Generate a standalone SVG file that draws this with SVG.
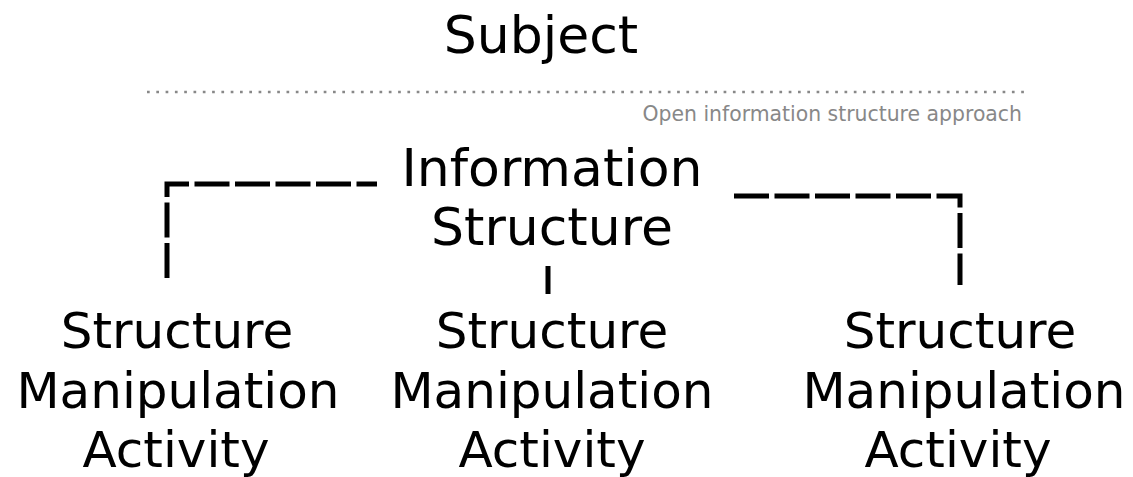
<svg xmlns="http://www.w3.org/2000/svg" width="1133" height="477" viewBox="0 0 1133 477">
<style>
.t{font-family:"DejaVu Sans",Verdana,sans-serif;font-size:52px;fill:#000;text-anchor:middle}
.a{font-size:50px}
.sub{font-family:"DejaVu Sans",Verdana,sans-serif;font-size:20.4px;fill:#888;text-anchor:end}
.c{fill:none;stroke:#000;stroke-width:5;stroke-dasharray:35 5.5}
</style>
<rect width="1133" height="477" fill="#fff"/>
<g id="subject">
<text class="t" x="541" y="53">Subject</text>
<line x1="147" y1="92" x2="1026" y2="92" stroke="#888" stroke-width="2.7" stroke-dasharray="2.7 6.6"/>
<text class="sub" x="1022" y="121">Open information structure approach</text>
</g>
<g id="info">
<text class="t" x="552" y="186">Information</text>
<text class="t" x="552" y="245">Structure</text>
</g>
<g id="act1">
<text class="t a" x="177" y="348">Structure</text>
<text class="t a" x="178" y="408">Manipulation</text>
<text class="t a" x="176" y="467">Activity</text>
</g>
<g id="act2">
<text class="t a" x="552" y="348">Structure</text>
<text class="t a" x="552" y="408">Manipulation</text>
<text class="t a" x="552" y="467">Activity</text>
</g>
<g id="act3">
<text class="t a" x="960" y="348">Structure</text>
<text class="t a" x="964" y="408">Manipulation</text>
<text class="t a" x="958" y="467">Activity</text>
</g>
<g id="connectors">
<path class="c" d="M167,278 V184 H377"/>
<path class="c" d="M734,196 H960 V285"/>
<path class="c" d="M548,266 V294"/>
</g>
</svg>
